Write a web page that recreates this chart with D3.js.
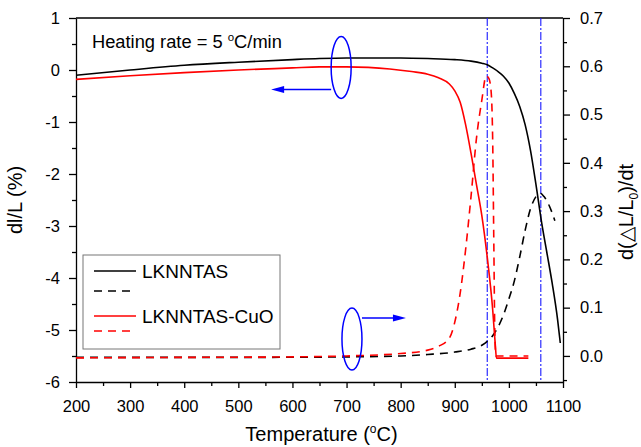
<!DOCTYPE html>
<html>
<head>
<meta charset="utf-8">
<script src="https://cdn.jsdelivr.net/npm/d3@7"></script>
<style>
body { margin: 0; background: #fff; }
text { font-family: "Liberation Sans", Arial, sans-serif; fill: #000; }
</style>
</head>
<body>
<div id="chart"></div>
<script>
// dl/L (%) curves, left axis
const lknSolidT = [200, 300, 400, 500, 600, 650, 700, 800, 850, 900, 930, 950, 960, 970, 980, 990, 1000, 1010, 1020, 1030, 1040, 1050, 1060, 1070, 1080, 1090, 1095];
const lknSolidV = [-0.1, 0.0, 0.09, 0.15, 0.2, 0.22, 0.23, 0.23, 0.22, 0.2, 0.17, 0.13, 0.1, 0.04, -0.03, -0.12, -0.25, -0.45, -0.7, -1.05, -1.55, -2.2, -2.9, -3.5, -4.1, -4.8, -5.25];

const cuoSolidT = [200, 300, 400, 500, 600, 650, 700, 740, 780, 820, 850, 870, 890, 900, 910, 920, 930, 940, 950, 960, 970, 975, 977, 1000, 1036];
const cuoSolidV = [-0.18, -0.11, -0.05, 0.0, 0.04, 0.06, 0.06, 0.05, 0.02, -0.03, -0.08, -0.15, -0.27, -0.4, -0.62, -1.05, -1.6, -2.2, -2.8, -3.6, -4.6, -5.3, -5.54, -5.54, -5.54];

// d(dL/L0)/dt curves, right axis
const lknDashT = [200, 500, 700, 800, 850, 900, 930, 950, 960, 970, 980, 990, 1000, 1010, 1020, 1030, 1040, 1050, 1058, 1065, 1075, 1085];
const lknDashV = [-0.003, -0.003, -0.002, 0.0, 0.003, 0.008, 0.014, 0.022, 0.03, 0.042, 0.06, 0.085, 0.118, 0.155, 0.205, 0.26, 0.305, 0.33, 0.337, 0.33, 0.31, 0.28];

const cuoDashT = [200, 400, 600, 700, 800, 850, 870, 890, 900, 910, 920, 930, 940, 950, 958, 963, 967, 970, 972, 974, 976, 1000, 1036];
const cuoDashV = [-0.004, -0.003, -0.002, 0.0, 0.005, 0.012, 0.02, 0.037, 0.07, 0.13, 0.22, 0.33, 0.45, 0.53, 0.58, 0.575, 0.55, 0.45, 0.25, 0.05, 0.0, 0.0, 0.0];

const xTicks = [200, 300, 400, 500, 600, 700, 800, 900, 1000, 1100];
const yLeftTicks = [-6, -5, -4, -3, -2, -1, 0, 1];
const yRightTicks = [0.0, 0.1, 0.2, 0.3, 0.4, 0.5, 0.6, 0.7];
const markerTemps = [960, 1059];

const legendNames = ["LKNNTAS", "", "LKNNTAS-CuO", ""];

const width = 641, height = 447;
const margin = {top: 18, right: 78, bottom: 65, left: 76};

const svg = d3.select("#chart").append("svg")
    .attr("width", width)
    .attr("height", height);

const x = d3.scaleLinear().domain([200, 1100]).range([margin.left, width - margin.right]);
const yL = d3.scaleLinear().domain([-6, 1]).range([height - margin.bottom, margin.top]);
const yR = d3.scaleLinear().domain([-0.054, 0.7]).range([height - margin.bottom, margin.top]);

const fontTick = 16.5;

// minor ticks
svg.append("g")
    .attr("transform", `translate(${margin.left},0)`)
    .call(d3.axisLeft(yL).tickValues(d3.range(-5.5, 1, 1)).tickSize(4).tickFormat(""))
    .call(g => g.select(".domain").remove());
svg.append("g")
    .attr("transform", `translate(0,${height - margin.bottom})`)
    .call(d3.axisBottom(x).tickValues(d3.range(250, 1100, 100)).tickSize(4).tickFormat(""))
    .call(g => g.select(".domain").remove());
svg.append("g")
    .attr("transform", `translate(${width - margin.right},0)`)
    .call(d3.axisRight(yR).tickValues([-0.05, 0.05, 0.15, 0.25, 0.35, 0.45, 0.55, 0.65]).tickSize(4).tickFormat(""))
    .call(g => g.select(".domain").remove());

// major axes
svg.append("g")
    .attr("transform", `translate(${margin.left},0)`)
    .call(d3.axisLeft(yL).tickValues(yLeftTicks).tickSize(7).tickSizeOuter(0).tickPadding(9).tickFormat(d => String(d)));
svg.append("g")
    .attr("transform", `translate(0,${height - margin.bottom})`)
    .call(d3.axisBottom(x).tickValues(xTicks).tickSize(6).tickSizeOuter(0).tickPadding(12).tickFormat(d => String(d)));
svg.append("g")
    .attr("transform", `translate(${width - margin.right},0)`)
    .call(d3.axisRight(yR).tickValues(yRightTicks).tickSize(7).tickSizeOuter(0).tickPadding(10).tickFormat(d => d.toFixed(1)));

svg.selectAll(".tick text").attr("font-size", fontTick).attr("font-family", "Liberation Sans, Arial, sans-serif");
svg.selectAll(".tick line").attr("stroke-width", 1.3);
svg.selectAll(".domain").attr("stroke-width", 1.3);

// top border
svg.append("line")
    .attr("x1", margin.left).attr("x2", width - margin.right)
    .attr("y1", margin.top).attr("y2", margin.top)
    .attr("stroke", "#000").attr("stroke-width", 1.3);

// vertical dash-dot markers
svg.selectAll(".marker")
    .data(markerTemps)
    .enter().append("line")
    .attr("x1", d => x(d)).attr("x2", d => x(d))
    .attr("y1", margin.top).attr("y2", height - margin.bottom)
    .attr("stroke", "#1a1aff")
    .attr("stroke-width", 1.1)
    .attr("stroke-dasharray", "8,2,2,2");

const lineL = d3.line().x(d => x(d[0])).y(d => yL(d[1])).curve(d3.curveMonotoneX);
const lineR = d3.line().x(d => x(d[0])).y(d => yR(d[1])).curve(d3.curveMonotoneX);

const pairs = (t, v) => t.map((d, i) => [d, v[i]]);

svg.append("path").datum(pairs(lknDashT, lknDashV))
    .attr("d", lineR).attr("fill", "none").attr("stroke", "#000")
    .attr("stroke-width", 1.6).attr("stroke-dasharray", "8,6");
svg.append("path").datum(pairs(cuoDashT, cuoDashV))
    .attr("d", lineR).attr("fill", "none").attr("stroke", "#ff0000")
    .attr("stroke-width", 1.6).attr("stroke-dasharray", "8,6");
svg.append("path").datum(pairs(lknSolidT, lknSolidV))
    .attr("d", lineL).attr("fill", "none").attr("stroke", "#000")
    .attr("stroke-width", 1.6);
svg.append("path").datum(pairs(cuoSolidT, cuoSolidV))
    .attr("d", lineL).attr("fill", "none").attr("stroke", "#ff0000")
    .attr("stroke-width", 1.6);

// ellipses with arrows
function arrow(x1, x2, y) {
    const dir = Math.sign(x2 - x1);
    svg.append("line")
        .attr("x1", x1).attr("x2", x2 - dir * 10)
        .attr("y1", y).attr("y2", y)
        .attr("stroke", "#0000ff").attr("stroke-width", 1.5);
    svg.append("path")
        .attr("d", `M${x2},${y} L${x2 - dir * 13},${y - 3.5} L${x2 - dir * 13},${y + 3.5} Z`)
        .attr("fill", "#0000ff");
}

const e1 = {cx: x(690), cy: yL(0.05)};
svg.append("ellipse")
    .attr("cx", e1.cx).attr("cy", e1.cy).attr("rx", 10).attr("ry", 31)
    .attr("fill", "none").attr("stroke", "#0000ff").attr("stroke-width", 1.5);
arrow(e1.cx - 10, e1.cx - 70, e1.cy + 22);

const e2 = {cx: x(710), cy: yR(0.035)};
svg.append("ellipse")
    .attr("cx", e2.cx).attr("cy", e2.cy).attr("rx", 10).attr("ry", 31)
    .attr("fill", "none").attr("stroke", "#0000ff").attr("stroke-width", 1.5);
arrow(e2.cx + 10, e2.cx + 54, e2.cy - 21);

// annotation
const ann = svg.append("text")
    .attr("x", 92).attr("y", 48)
    .attr("font-size", 18.3);
ann.append("tspan").text("Heating rate = 5 ");
ann.append("tspan").attr("font-size", 11.5).attr("dy", -7).text("o");
ann.append("tspan").attr("dy", 7).text("C/min");

// legend
const lg = svg.append("g");
lg.append("rect")
    .attr("x", 83).attr("y", 255).attr("width", 197).attr("height", 94)
    .attr("fill", "#fff").attr("stroke", "#777").attr("stroke-width", 1);
const legRows = [
    {y: 271, color: "#000", dash: null},
    {y: 291, color: "#000", dash: "8,6"},
    {y: 316, color: "#ff0000", dash: null},
    {y: 331, color: "#ff0000", dash: "8,6"}
];
legRows.forEach((r, i) => {
    lg.append("line")
        .attr("x1", 94).attr("x2", 136)
        .attr("y1", r.y).attr("y2", r.y)
        .attr("stroke", r.color).attr("stroke-width", 1.6)
        .attr("stroke-dasharray", r.dash);
    if (legendNames[i]) {
        lg.append("text")
            .attr("x", 142).attr("y", r.y + 6.5)
            .attr("font-size", 19)
            .text(legendNames[i]);
    }
});

// axis titles
const xt = svg.append("text")
    .attr("x", (margin.left + width - margin.right) / 2 + 2)
    .attr("y", 441)
    .attr("text-anchor", "middle")
    .attr("font-size", 20);
xt.append("tspan").text("Temperature (");
xt.append("tspan").attr("font-size", 12).attr("dy", -8).text("o");
xt.append("tspan").attr("dy", 8).text("C)");

svg.append("text")
    .attr("transform", `translate(22,${(margin.top + height - margin.bottom) / 2}) rotate(-90)`)
    .attr("text-anchor", "middle")
    .attr("font-size", 20)
    .text("dl/L (%)");

const yt = svg.append("text")
    .attr("transform", `translate(633,${(margin.top + height - margin.bottom) / 2 + 12}) rotate(-90)`)
    .attr("text-anchor", "middle")
    .attr("font-size", 20);
yt.append("tspan").text("d(\u25B3L/L");
yt.append("tspan").attr("font-size", 12).attr("dy", 5).text("0");
yt.append("tspan").attr("dy", -5).text(")/dt");
</script>
</body>
</html>
